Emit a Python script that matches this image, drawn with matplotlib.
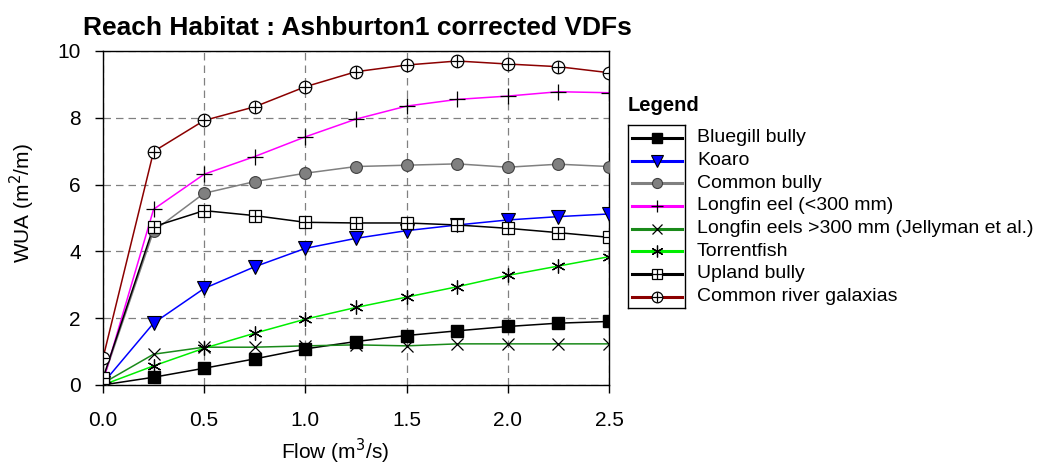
import matplotlib
matplotlib.use("Agg")
import matplotlib.pyplot as plt

plt.rcParams['font.family'] = ['Liberation Sans', 'DejaVu Sans']

# flow steps (m3/s)
flow = [0.0, 0.25, 0.5, 0.75, 1.0, 1.25, 1.5, 1.75, 2.0, 2.25, 2.5]

# weighted usable area (m2/m) for each species
bluegill_bully = [0.0, 0.23, 0.50, 0.78, 1.08, 1.30, 1.48, 1.62, 1.75, 1.85, 1.90]
koaro = [0.05, 1.85, 2.89, 3.54, 4.09, 4.39, 4.62, 4.79, 4.94, 5.04, 5.12]
common_bully = [0.15, 4.61, 5.74, 6.09, 6.34, 6.54, 6.58, 6.62, 6.52, 6.61, 6.54]
longfin_small = [0.10, 5.26, 6.31, 6.84, 7.43, 7.96, 8.35, 8.55, 8.65, 8.78, 8.75]
longfin_large = [0.05, 0.92, 1.13, 1.13, 1.17, 1.20, 1.17, 1.23, 1.23, 1.23, 1.23]
torrentfish = [0.0, 0.57, 1.10, 1.55, 1.97, 2.32, 2.63, 2.94, 3.28, 3.56, 3.84]
upland_bully = [0.20, 4.74, 5.22, 5.07, 4.87, 4.85, 4.85, 4.79, 4.69, 4.56, 4.42]
galaxias = [0.80, 6.99, 7.92, 8.33, 8.93, 9.38, 9.58, 9.70, 9.61, 9.53, 9.35]

labels = ['Bluegill bully', 'Koaro', 'Common bully', 'Longfin eel (<300 mm)',
          'Longfin eels >300 mm (Jellyman et al.)', 'Torrentfish',
          'Upland bully', 'Common river galaxias']
series = [bluegill_bully, koaro, common_bully, longfin_small,
          longfin_large, torrentfish, upland_bully, galaxias]

# line colour, then a list of marker layers drawn on top of each other
styles = [
    ('black', [dict(marker='s', mfc='black', mec='black', ms=8.5)]),
    ('#0000ff', [dict(marker='v', mfc='#0000ff', mec='black', ms=9.5, mew=0.8)]),
    ('#808080', [dict(marker='o', mfc='#808080', mec='#404040', ms=8.5, mew=0.8)]),
    ('#ff00ff', [dict(marker='+', mfc='none', mec='black', ms=11, mew=0.9)]),
    ('#1a8a1a', [dict(marker='x', mfc='none', mec='black', ms=9, mew=0.9)]),
    ('#00ee00', [dict(marker=(6, 2, 0), mfc='none', mec='black', ms=10, mew=0.9)]),
    ('black', [dict(marker='s', mfc='white', mec='black', ms=8.5, mew=0.9),
               dict(marker='+', mfc='none', mec='black', ms=8.5, mew=0.9)]),
    ('#8b0000', [dict(marker='o', mfc='white', mec='black', ms=9, mew=0.9),
                 dict(marker='+', mfc='none', mec='black', ms=9, mew=0.9)]),
]

fig = plt.figure(figsize=(10.38, 4.70), dpi=100)
ax = fig.add_axes([0.0992, 0.181, 0.4875, 0.7105])

for vals, (col, marks) in zip(series, styles):
    ax.plot(flow, vals, color=col, lw=1.1, zorder=2)
    for m in marks:
        ax.plot(flow, vals, ls='none', zorder=3, **m)

ax.set_xlim(0, 2.5)
ax.set_ylim(0, 10)
ax.set_xticks([0.0, 0.5, 1.0, 1.5, 2.0, 2.5])
ax.set_xticklabels(['0.0', '0.5', '1.0', '1.5', '2.0', '2.5'])
ax.set_yticks([0, 2, 4, 6, 8, 10])
ax.tick_params(labelsize=15, length=6, width=1, direction='out')
ax.tick_params(axis='x', pad=13)
ax.tick_params(axis='y', pad=10)
ax.grid(True, color='#808080', ls=(0, (6, 4)), lw=0.9)
ax.set_axisbelow(True)
for s in ax.spines.values():
    s.set_linewidth(1.0)

fig.text(0.323, 0.04, 'Flow (m$^3$/s)', fontsize=15, ha='center', va='center')
fig.text(0.022, 0.568, 'WUA (m$^2$/m)', fontsize=15, ha='center', va='center',
         rotation=90)
fig.text(0.344, 0.94, 'Reach Habitat : Ashburton1 corrected VDFs',
         ha='center', va='center', fontsize=19, fontweight='bold')

# hand-built legend: boxed line samples, labels to the right of the box
lg = fig.add_axes([0.605, 0.3447, 0.0549, 0.389])
lg.set_xlim(628, 685)
lg.set_ylim(308, 125)
lg.set_xticks([])
lg.set_yticks([])
for s in lg.spines.values():
    s.set_linewidth(1.0)
lg.text(628, 105, 'Legend', fontsize=14.5, fontweight='bold', va='center',
        ha='left', clip_on=False)
for i, (lab, (col, marks)) in enumerate(zip(labels, styles)):
    yy = 137.7 + 22.7 * i
    lg.plot([632.5, 682.5], [yy, yy], color=col, lw=2.2)
    for m in marks:
        mm = dict(m)
        mm['ms'] = m['ms'] * 0.85
        lg.plot([657.5], [yy], **mm)
    lg.text(697, yy, lab, fontsize=14, va='center', ha='left', clip_on=False)

fig.savefig('out.png', dpi=100)
